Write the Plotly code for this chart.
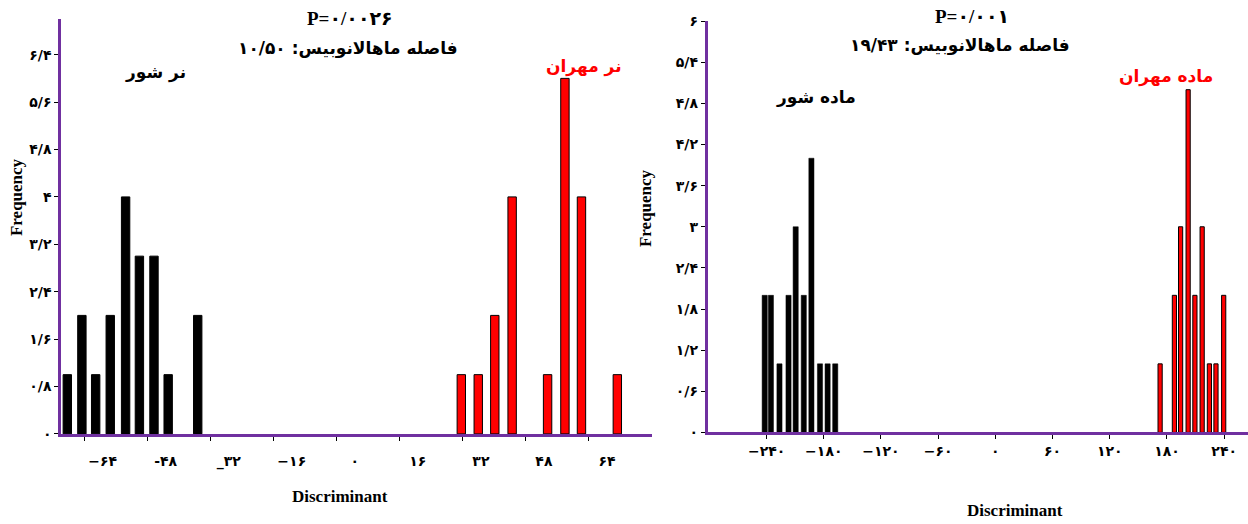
import plotly.graph_objects as go

# ---------------- data ----------------
left_black_x = [-68.4, -64.7, -61.2, -57.5, -53.6, -50.1, -46.4, -42.8, -35.3]
left_black_y = [1, 2, 1, 2, 4, 3, 3, 1, 2]
left_red_x = [31.6, 35.9, 40.1, 44.5, 53.5, 57.9, 62.1, 71.2]
left_red_y = [1, 1, 2, 4, 1, 6, 4, 1]

right_black_x = [-242, -235.5, -226.5, -217, -209.5, -201, -193, -184, -176, -168]
right_black_y = [2, 2, 1, 2, 3, 2, 4, 1, 1, 1]
right_red_x = [172.8, 187.8, 194.3, 202.2, 209.3, 216.9, 224.5, 231.4, 239.5]
right_red_y = [1, 2, 3, 5, 2, 3, 1, 1, 2]

left_xticks = [-64, -48, -32, -16, 0, 16, 32, 48, 64]
left_xtext = ["−۶۴", "-۴۸", "_۳۲", "−۱۶", "۰", "۱۶", "۳۲", "۴۸", "۶۴"]
left_yticks = [0, 0.8, 1.6, 2.4, 3.2, 4, 4.8, 5.6, 6.4]
left_ytext = ["۰", "۰/۸", "۱/۶", "۲/۴", "۳/۲", "۴", "۴/۸", "۵/۶", "۶/۴"]

right_xticks = [-240, -180, -120, -60, 0, 60, 120, 180, 240]
right_xtext = ["−۲۴۰", "−۱۸۰", "−۱۲۰", "−۶۰", "۰", "۶۰", "۱۲۰", "۱۸۰", "۲۴۰"]
right_yticks = [0, 0.6, 1.2, 1.8, 2.4, 3, 3.6, 4.2, 4.8, 5.4, 6]
right_ytext = ["۰", "۰/۶", "۱/۲", "۱/۸", "۲/۴", "۳", "۳/۶", "۴/۲", "۴/۸", "۵/۴", "۶"]

left_title_p = "P=۰/۰۰۲۶"
left_title_d = "فاصله ماهالانوبیس: ۱۰/۵۰"
right_title_p = "P=۰/۰۰۱"
right_title_d = "فاصله ماهالانوبیس: ۱۹/۴۳"
left_black_name = "نر شور"
left_red_name = "نر مهران"
right_black_name = "ماده شور"
right_red_name = "ماده مهران"

# ---------------- figure ----------------
W, H = 1248, 524
def px(x):
    return x / W
def Y(y):
    # vertical pixel position (from top), slightly stretched about the centre
    return 262 + (y - 262) / 0.97
def py(y):
    return 1 - Y(y) / H

PURPLE = "#7030A0"
FA = "DejaVu Sans"
SERIF = "Liberation Serif, DejaVu Sans"

fig = go.Figure()
fig.add_trace(go.Bar(x=left_black_x, y=left_black_y, width=2.13, xaxis="x", yaxis="y",
                     marker=dict(color="black", line=dict(color="black", width=1)), name=left_black_name))
fig.add_trace(go.Bar(x=left_red_x, y=left_red_y, width=2.13, xaxis="x", yaxis="y",
                     marker=dict(color="#FF0000", line=dict(color="black", width=1)), name=left_red_name))
fig.add_trace(go.Bar(x=right_black_x, y=right_black_y, width=5.4, xaxis="x2", yaxis="y2",
                     marker=dict(color="black", line=dict(color="black", width=0.5)), name=right_black_name))
fig.add_trace(go.Bar(x=right_red_x, y=right_red_y, width=4.4, xaxis="x2", yaxis="y2",
                     marker=dict(color="#FF0000", line=dict(color="black", width=1)), name=right_red_name))

tickfont = dict(family=FA, size=14, color="black", weight="bold")
common_axis = dict(showline=True, linecolor=PURPLE, linewidth=2.5, showgrid=False, zeroline=False,
                   ticks="outside", ticklen=4, tickcolor="black", tickwidth=1, tickfont=tickfont,
                   fixedrange=True)

fig.update_layout(
    width=W, height=H,
    margin=dict(l=0, r=0, t=0, b=0),
    paper_bgcolor="white", plot_bgcolor="white",
    showlegend=False, barmode="overlay",
    xaxis=dict(domain=[px(61), px(652)], range=[-70, 80], anchor="y",
               tickmode="array", tickvals=left_xticks, ticktext=left_xtext,
               ticklabelshift=18, ticklabelstandoff=9, **common_axis),
    yaxis=dict(domain=[py(434), py(19)], range=[0, 7], anchor="x",
               tickmode="array", tickvals=left_yticks, ticktext=left_ytext, **common_axis),
    xaxis2=dict(domain=[px(707.5), 1.0], range=[-302, 265], anchor="y2",
                tickmode="array", tickvals=right_xticks, ticktext=right_xtext, **common_axis),
    yaxis2=dict(domain=[py(432.5), py(21)], range=[0, 6], anchor="x2",
                tickmode="array", tickvals=right_yticks, ticktext=right_ytext, **common_axis),
)

def ann(text, x, y, size, color="black", family=FA, angle=0):
    fig.add_annotation(text=text, x=px(x), y=py(y), xref="paper", yref="paper",
                       showarrow=False, textangle=angle, xanchor="center", yanchor="middle",
                       font=dict(family=family, size=size, color=color, weight="bold"))

ann(left_title_p, 350, 18, 19, family=SERIF)
ann(left_title_d, 348, 48, 17)
ann(left_black_name, 155, 72, 17)
ann(left_red_name, 584, 66, 17, color="#FF0000")
ann("Frequency", 16, 197, 17, family=SERIF, angle=-90)
ann("Discriminant", 340, 497, 17, family=SERIF)

ann(right_title_p, 972, 16, 19, family=SERIF)
ann(right_title_d, 960, 45, 17)
ann(right_black_name, 816, 97, 17)
ann(right_red_name, 1166, 76, 17, color="#FF0000")
ann("Frequency", 645, 208, 17, family=SERIF, angle=-90)
ann("Discriminant", 1015, 511, 17, family=SERIF)

fig.write_html("out.html", config={"displayModeBar": False},
               post_script="document.body.style.margin='0px';document.body.style.overflow='hidden';")
